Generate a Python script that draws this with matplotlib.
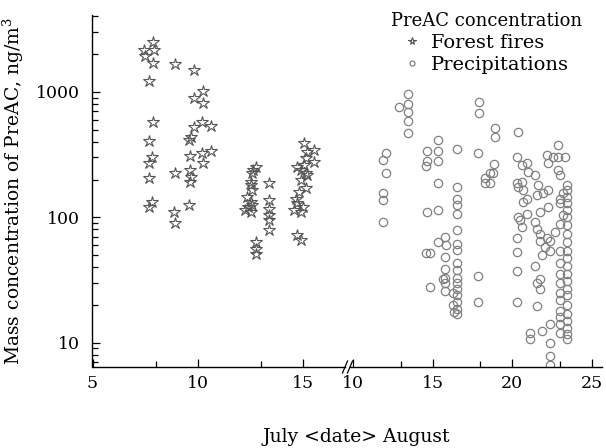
import matplotlib
matplotlib.use("Agg")
import matplotlib.pyplot as plt
from matplotlib.ticker import FixedLocator, LogLocator, NullFormatter

# ---------------- data ----------------
july_day = [7.88, 7.46, 7.90, 7.51, 7.88, 8.90, 9.81, 7.67, 10.24, 9.81, 10.26,
            7.88, 9.81, 10.21, 10.64, 7.67, 9.69, 9.57, 7.83, 7.67, 9.62, 10.21,
            10.64, 10.26, 7.67, 8.90, 9.65, 9.70, 9.65, 7.83, 7.67, 9.57, 8.86, 8.90,
            12.75, 12.59, 12.51, 12.51, 12.35, 12.51, 12.27, 12.51, 12.59, 12.75,
            12.75, 12.75, 12.60, 12.40, 12.65,
            13.38, 13.38, 13.38, 13.38, 13.38, 13.38,
            15.05, 15.52, 15.21, 15.13, 15.52, 14.73, 15.05, 15.13, 14.89, 15.13,
            14.73, 14.57, 14.89, 14.73, 14.89, 15.21, 14.65, 14.90, 15.00, 14.80]
july_val = [2500, 2140, 2140, 1916, 1714, 1667, 1500, 1224, 1019, 891, 813,
            573, 527, 573, 537, 405, 434, 413, 304, 269, 309, 327,
            337, 269, 206, 224, 238, 210, 191, 132, 121, 125, 110, 90,
            252, 224, 191, 180, 145, 132, 114, 110, 125, 63,
            56, 51, 164, 120, 240,
            186, 137, 117, 104, 95, 79,
            389, 344, 333, 295, 277, 252, 261, 224, 198, 170,
            129, 114, 110, 72, 66, 217, 141, 240, 120, 160]

aug_day = [13.44, 12.89, 13.44, 13.48, 13.48, 13.44,
           15.33, 14.64, 15.33, 16.56, 14.64, 14.60, 15.33,
           12.08, 11.91, 12.08, 15.33, 16.56, 11.91, 11.91,
           16.56, 16.56, 16.56, 14.64, 15.33, 11.91, 16.56,
           15.79, 15.33, 15.84, 16.56, 16.56, 14.61, 14.86, 15.79,
           16.56, 16.56, 16.56, 16.56, 16.56, 16.56, 16.56, 16.56, 16.56,
           15.79, 15.79, 15.79, 15.68, 15.79, 14.86, 16.30, 16.30, 16.35,
           22.91, 17.88, 18.89, 18.30, 18.62, 18.83, 18.62, 18.30,
           20.30, 20.61, 20.93, 21.03, 21.45, 21.66,
           20.30, 20.61, 20.40, 20.70, 20.93, 20.70,
           21.55, 21.97, 22.28, 22.28, 21.76, 20.93,
           20.40, 20.50, 20.61, 20.30, 20.30, 20.30, 20.30,
           21.45, 21.55, 21.76, 21.76, 22.07, 21.86, 22.17, 22.39,
           21.45, 21.55, 21.76, 21.76, 21.55,
           22.39, 22.70, 23.02, 23.23, 23.02, 23.02, 23.23,
           22.22, 22.28, 22.60, 22.91, 23.33, 22.91, 23.02,
           23.44, 23.44, 23.44, 23.44, 23.44, 23.44, 23.44, 23.44, 23.44, 23.44, 23.44,
           23.44, 23.44, 23.44, 23.44, 23.44, 23.44, 23.44, 23.44, 23.44, 23.44, 23.44,
           23.00, 23.00, 23.00, 23.00, 23.00, 23.00, 23.00, 23.00, 23.00, 23.00,
           22.39, 21.86, 21.13, 21.13, 22.39, 22.39, 22.39,
           17.88, 17.88, 17.90, 17.95, 18.90, 18.90, 20.40]
aug_val = [964, 755, 802, 695, 589, 472,
           413, 339, 339, 348, 281, 256, 281,
           324, 286, 224, 186, 173, 156, 137,
           139, 125, 107, 110, 115, 92, 79,
           69.5, 63, 60, 61, 55, 52, 52, 48,
           43, 38, 33, 30, 27, 24, 21, 18.6, 17,
           39, 33, 30, 32, 26, 28, 25, 20, 17.5,
           377, 324, 265, 204, 224, 224, 186, 186,
           304, 261, 272, 230, 217, 180,
           186, 191, 175, 164, 141, 132,
           150, 155, 164, 121, 110, 107,
           100, 95, 84, 68, 53, 37, 21,
           92, 81, 74, 65, 58, 50, 68, 54,
           41, 30, 32, 27, 19.5,
           65, 76, 89, 104, 129, 141, 155,
           313, 269, 304, 304, 300, 238, 217,
           180, 164, 145, 129, 114, 100, 86, 74, 63, 54, 47,
           41, 35, 31, 27, 24, 20, 17, 15, 13.2, 11.7, 10.7,
           54, 43, 35, 30, 25, 22, 18, 16, 14, 12,
           14, 12.5, 12, 10.7, 10, 7.9, 6.6,
           34, 21, 830, 680, 515, 437, 480]

july_ticks = [5, 10, 15]
july_minor = [8, 13]
aug_ticks = [10, 15, 20, 25]
aug_minor = [13, 18, 23]

y_label = "Mass concentration of PreAC, ng/m$^3$"
x_label = "July <date> August"
legend_title = "PreAC concentration"
series_names = ["Forest fires", "Precipitations"]

# ---------------- style ----------------
plt.rcParams['font.family'] = ['DejaVu Serif']
plt.rcParams['mathtext.fontset'] = 'dejavuserif'
plt.rcParams['font.size'] = 12

W, H = 606, 448
fig = plt.figure(figsize=(W / 100, H / 100), dpi=100)

y0 = 1 - 367 / H
y1 = 1 - 15 / H
ax1 = fig.add_axes([92.5 / W, y0, (345 - 92.5) / W, y1 - y0])
ax2 = fig.add_axes([350 / W, y0, (602 - 350) / W, y1 - y0], sharey=ax1)

star_kw = dict(marker='*', linestyle='none', markersize=9, markerfacecolor='none',
               markeredgecolor='#555555', markeredgewidth=0.8)
circ_kw = dict(marker='o', linestyle='none', markersize=6, markerfacecolor='none',
               markeredgecolor='#808080', markeredgewidth=0.9)

ax1.plot(july_day, july_val, **star_kw, label=series_names[0])
ax2.plot(aug_day, aug_val, **circ_kw, label=series_names[1])

ax1.set_yscale('log')
ax1.set_ylim(6.4, 4100)
ax1.set_xlim(5, 17)
ax2.set_xlim(9.81, 25.66)

for ax in (ax1, ax2):
    ax.spines['top'].set_visible(False)
    ax.spines['right'].set_visible(False)
    ax.spines['bottom'].set_linewidth(1.0)
    ax.patch.set_alpha(0)

ax2.spines['left'].set_visible(False)
ax1.spines['left'].set_linewidth(1.0)

ax1.xaxis.set_major_locator(FixedLocator(july_ticks))
ax1.xaxis.set_minor_locator(FixedLocator(july_minor))
ax2.xaxis.set_major_locator(FixedLocator(aug_ticks))
ax2.xaxis.set_minor_locator(FixedLocator(aug_minor))

ax1.yaxis.set_major_locator(LogLocator(base=10, numticks=10))
ax1.yaxis.set_minor_locator(LogLocator(base=10, subs=range(2, 10), numticks=20))
ax1.yaxis.set_minor_formatter(NullFormatter())
ax1.yaxis.set_major_formatter(plt.FuncFormatter(lambda v, p: f"{v:g}"))

for ax in (ax1, ax2):
    ax.tick_params(axis='x', which='major', direction='in', length=6, width=0.9,
                   pad=6, top=False, labelsize=12.5)
    ax.tick_params(axis='x', which='minor', direction='in', length=4.5, width=0.9, top=False)
ax1.tick_params(axis='y', which='major', direction='in', length=6, width=0.9, pad=9,
                right=False, labelsize=12.5)
ax1.tick_params(axis='y', which='minor', direction='in', length=4, width=0.9, right=False)
ax2.tick_params(axis='y', which='both', left=False, labelleft=False, right=False)

ax1.set_ylabel(y_label, labelpad=7, fontsize=13.5)
fig.text(356 / W, 1 - 437 / H, x_label, ha='center', va='center', fontsize=13.5)

# break marks
def slash(ax, xfrac):
    trans = ax.transAxes
    bb = ax.get_position()
    dx = 2.5 / (bb.width * W)
    dy = 6 / (bb.height * H)
    ax.plot([xfrac - dx, xfrac + dx], [-dy, dy], transform=trans, color='black',
            lw=0.9, clip_on=False)

slash(ax1, 1.0)
slash(ax2, 0.0)

h1, l1 = ax1.get_legend_handles_labels()
h2, l2 = ax2.get_legend_handles_labels()
leg = fig.legend(h1 + h2, l1 + l2, title=legend_title, loc='upper right',
                 bbox_to_anchor=(590 / W, 1 - 4 / H), frameon=False, fontsize=14,
                 title_fontsize=13, markerscale=0.6, handlelength=0.8,
                 handletextpad=0.6, labelspacing=0.2, borderaxespad=0)

fig.savefig("out.png", dpi=100)
